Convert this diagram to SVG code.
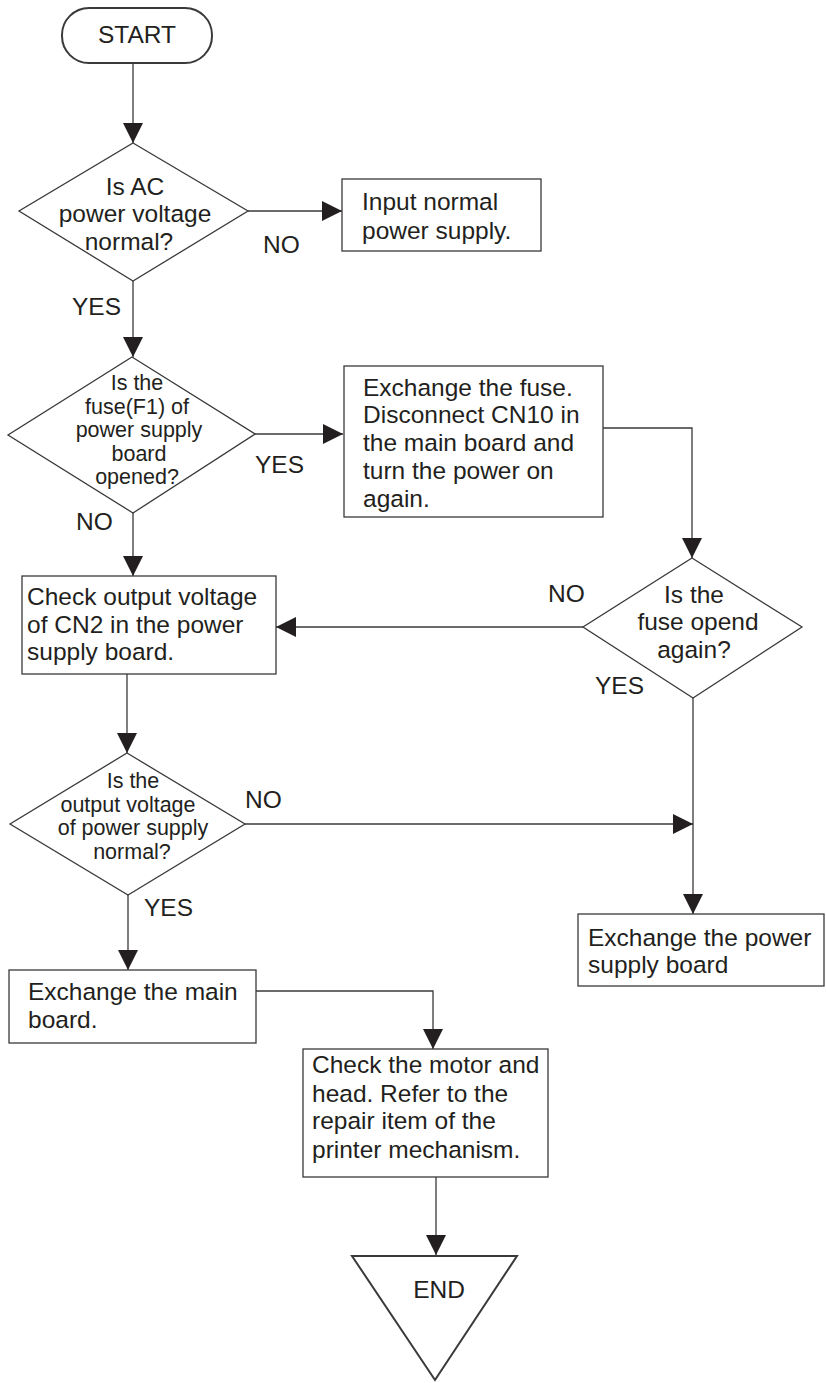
<svg xmlns="http://www.w3.org/2000/svg" width="826" height="1383" viewBox="0 0 826 1383">
<style>
.s{fill:#fff;stroke:#3a3a3a;stroke-width:1.3}
.t{font-family:"Liberation Sans",Arial,sans-serif;font-size:24.5px;fill:#231f20}
.d{font-size:21.5px}
.c{text-anchor:middle}
.ln{fill:none;stroke:#3a3a3a;stroke-width:1.3}
</style>
<defs>
<marker id="ah" markerUnits="userSpaceOnUse" markerWidth="20" markerHeight="20" refX="20" refY="10" orient="auto" viewBox="0 0 20 20">
<path d="M0,0 L20,10 L0,20 z" fill="#231f20"/>
</marker>
</defs>
<rect width="826" height="1383" fill="#fff"/>
<g id="connectors">
<path class="ln" d="M133,63 V143" marker-end="url(#ah)"/>
<path class="ln" d="M248,211 H342" marker-end="url(#ah)"/>
<path class="ln" d="M133,281 V357" marker-end="url(#ah)"/>
<path class="ln" d="M255,434 H343" marker-end="url(#ah)"/>
<path class="ln" d="M133,513 V576" marker-end="url(#ah)"/>
<path class="ln" d="M603,428 H692 V558" marker-end="url(#ah)"/>
<path class="ln" d="M583,627 H276" marker-end="url(#ah)"/>
<path class="ln" d="M127,674 V753" marker-end="url(#ah)"/>
<path class="ln" d="M245,824 H693" marker-end="url(#ah)"/>
<path class="ln" d="M693,698 V914" marker-end="url(#ah)"/>
<path class="ln" d="M128,895 V970" marker-end="url(#ah)"/>
<path class="ln" d="M256,991 H433 V1049" marker-end="url(#ah)"/>
<path class="ln" d="M436,1177 V1255" marker-end="url(#ah)"/>
</g>
<g id="labels">
<text class="t" x="263" y="253">NO</text>
<text class="t" x="72" y="315">YES</text>
<text class="t" x="255" y="473">YES</text>
<text class="t" x="76" y="530">NO</text>
<text class="t" x="548" y="602">NO</text>
<text class="t" x="595" y="694">YES</text>
<text class="t" x="245" y="808">NO</text>
<text class="t" x="144" y="916">YES</text>
</g>
<g id="start">
<rect class="s" x="62" y="8" width="150" height="55" rx="27" ry="27" style="stroke-width:2"/>
<text class="t c" x="137" y="43">START</text>
</g>
<g id="d1">
<polygon class="s" points="133,143 248,211 133,281 19,211"/>
<text class="t c" x="135" y="195">Is AC</text>
<text class="t c" x="135" y="222">power voltage</text>
<text class="t c" x="129" y="250">normal?</text>
</g>
<g id="input">
<rect class="s" x="342" y="179" width="199" height="72"/>
<text class="t" x="362" y="210">Input normal</text>
<text class="t" x="362" y="239">power supply.</text>
</g>
<g id="d2">
<polygon class="s" points="132,357 255,434 133,513 8,435"/>
<text class="t c d" x="137" y="390">Is the</text>
<text class="t c d" x="137" y="413.5">fuse(F1) of</text>
<text class="t c d" x="139" y="437">power supply</text>
<text class="t c d" x="139" y="460.5">board</text>
<text class="t c d" x="137" y="484">opened?</text>
</g>
<g id="fusebox">
<rect class="s" x="344" y="366" width="259" height="151"/>
<text class="t" x="363" y="396">Exchange the fuse.</text>
<text class="t" x="363" y="423">Disconnect CN10 in</text>
<text class="t" x="363" y="451">the main board and</text>
<text class="t" x="363" y="479">turn the power on</text>
<text class="t" x="363" y="507">again.</text>
</g>
<g id="d3">
<polygon class="s" points="692,558 802,627 693,698 583,627"/>
<text class="t c" x="694" y="603">Is the</text>
<text class="t c" x="698" y="630">fuse opend</text>
<text class="t c" x="694" y="658">again?</text>
</g>
<g id="cn2box">
<rect class="s" x="22" y="576" width="254" height="98"/>
<text class="t" x="27" y="605">Check output voltage</text>
<text class="t" x="27" y="633">of CN2 in the power</text>
<text class="t" x="27" y="660">supply board.</text>
</g>
<g id="d4">
<polygon class="s" points="127,753 245,824 128,895 10,824"/>
<text class="t c d" x="133" y="788">Is the</text>
<text class="t c d" x="128" y="811.5">output voltage</text>
<text class="t c d" x="133" y="835">of power supply</text>
<text class="t c d" x="132" y="859">normal?</text>
</g>
<g id="psbox">
<rect class="s" x="578" y="914" width="246" height="72"/>
<text class="t" x="588" y="946">Exchange the power</text>
<text class="t" x="588" y="973">supply board</text>
</g>
<g id="mainbox">
<rect class="s" x="9" y="970" width="247" height="73"/>
<text class="t" x="28" y="1000">Exchange the main</text>
<text class="t" x="28" y="1028">board.</text>
</g>
<g id="motorbox">
<rect class="s" x="303" y="1049" width="245" height="128"/>
<text class="t" x="312" y="1073">Check the motor and</text>
<text class="t" x="312" y="1102">head. Refer to the</text>
<text class="t" x="312" y="1129">repair item of the</text>
<text class="t" x="312" y="1158">printer mechanism.</text>
</g>
<g id="end">
<polygon class="s" points="352,1256 517,1256 435,1380" style="stroke-width:2"/>
<text class="t c" x="439" y="1298">END</text>
</g>
</svg>
